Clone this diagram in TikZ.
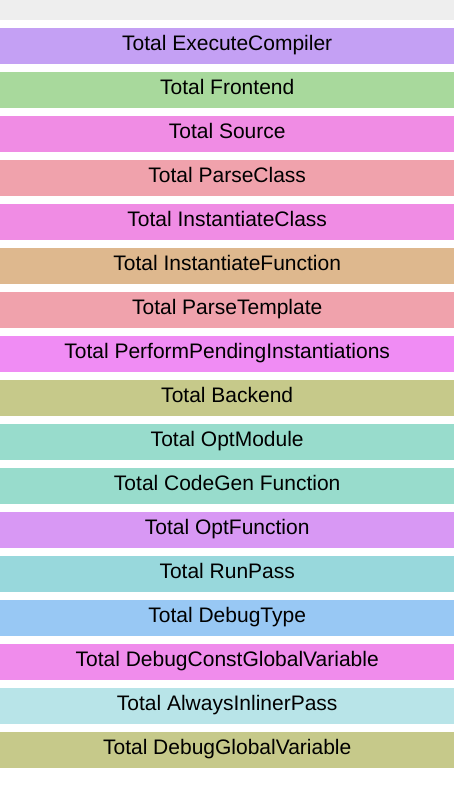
\documentclass[tikz,border=0pt]{standalone}
\usepackage{fontspec}
\setmainfont{Liberation Sans}
\definecolor{cExec}{HTML}{C4A0F4}
\definecolor{cFront}{HTML}{A8D99C}
\definecolor{cSource}{HTML}{F08CE4}
\definecolor{cParse}{HTML}{F0A2AC}
\definecolor{cInstFn}{HTML}{DEB88E}
\definecolor{cPending}{HTML}{F08CF4}
\definecolor{cBack}{HTML}{C6C98A}
\definecolor{cOpt}{HTML}{98DCCC}
\definecolor{cOptFn}{HTML}{D898F4}
\definecolor{cRun}{HTML}{98D8DC}
\definecolor{cDebug}{HTML}{98C8F4}
\definecolor{cConst}{HTML}{F08CEC}
\definecolor{cInline}{HTML}{B8E4E8}
\definecolor{cTop}{HTML}{EEEEEE}
\tikzset{
  bar/.style={rectangle, inner sep=0pt, minimum width=454pt, minimum height=36pt,
    text height=13pt, text depth=5pt,
    anchor=north west, font=\fontsize{21}{24}\selectfont, text=black},
}
\begin{document}
\begin{tikzpicture}[x=1pt,y=-1pt]
  \useasboundingbox (0,0) rectangle (454,792);
  \fill[white] (0,0) rectangle (454,792);
  \fill[cTop] (0,0) rectangle (454,20);
  \foreach \i/\c/\t in {
    0/cExec/Total ExecuteCompiler,
    1/cFront/Total Frontend,
    2/cSource/Total Source,
    3/cParse/Total ParseClass,
    4/cSource/Total InstantiateClass,
    5/cInstFn/Total InstantiateFunction,
    6/cParse/Total ParseTemplate,
    7/cPending/Total PerformPendingInstantiations,
    8/cBack/Total Backend,
    9/cOpt/Total OptModule,
    10/cOpt/Total CodeGen Function,
    11/cOptFn/Total OptFunction,
    12/cRun/Total RunPass,
    13/cDebug/Total DebugType,
    14/cConst/Total DebugConstGlobalVariable,
    15/cInline/Total AlwaysInlinerPass,
    16/cBack/Total DebugGlobalVariable}
  {
    \node[bar, fill=\c] (bar\i) at (0,{28+44*\i}) {\t};
  }
\end{tikzpicture}
\end{document}
